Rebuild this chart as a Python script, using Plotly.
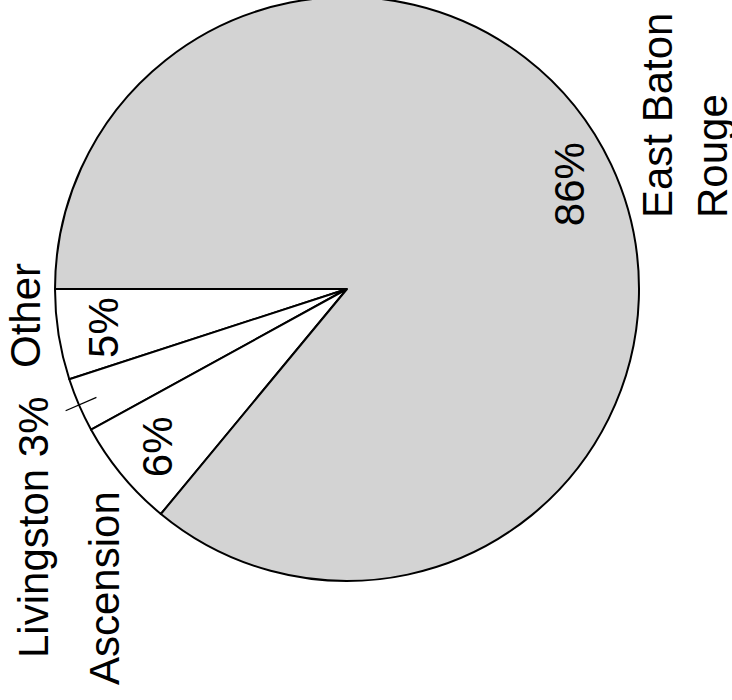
import math
import plotly.graph_objects as go

# ---- data ----
labels = ["Other", "Livingston", "Ascension", "East Baton Rouge"]
values = [5, 3, 6, 86]
slice_colors = ["#ffffff", "#ffffff", "#ffffff", "#d3d3d3"]

# ---- geometry (figure pixels) ----
W, H = 732, 703
CX, CY, R = 347, 292, 292
FONT = dict(family="Liberation Sans, Arial, sans-serif", size=42, color="black")

total = float(sum(values))


def to_paper(px, py):
    return px / W, 1 - py / H


def polar(r, theta_deg):
    # theta measured from 9 o'clock, going counter-clockwise on screen
    t = math.radians(theta_deg)
    return CX - r * math.cos(t), CY + r * math.sin(t)


# plotly puts the first slice clockwise of `rotation` when direction is ccw
rotation = 270 - 360 * values[0] / total

fig = go.Figure(
    go.Pie(
        labels=labels,
        values=values,
        sort=False,
        direction="counterclockwise",
        rotation=rotation,
        marker=dict(colors=slice_colors, line=dict(color="black", width=2)),
        textinfo="none",
        hoverinfo="label+percent",
        showlegend=False,
        domain=dict(x=[(CX - R) / W, (CX + R) / W], y=[1 - (CY + R) / H, 1 - (CY - R) / H]),
    )
)

annotations = []
shapes = []
cum = 0.0
mids = []
for lab, v in zip(labels, values):
    mid = 360 * (cum + v / 2) / total
    mids.append(mid)
    cum += v
    pct = f"{round(100 * v / total)}%"
    if v / total >= 0.04:
        x, y = polar(0.845 * R, mid)
        px, py = to_paper(x, y)
        annotations.append(dict(x=px, y=py, xref="paper", yref="paper", text=pct,
                                textangle=-90, showarrow=False, font=FONT,
                                xanchor="center", yanchor="middle"))

# outside labels (box centres in figure pixels)
outside = [
    ("Other", 26, 319, "center"),
    ("Livingston 3%", 33, 530, "center"),
    ("Ascension", 104, 591, "center"),
    ("East Baton<br>Rouge", 685, 119, "left"),
]
for text, x, y, al in outside:
    px, py = to_paper(x, y)
    annotations.append(dict(x=px, y=py, xref="paper", yref="paper", text=text,
                            textangle=-90, showarrow=False, font=FONT, align=al,
                            xanchor="center", yanchor="middle"))

# leader line for the Livingston slice
x0, y0 = polar(0.935 * R, mids[1])
x1, y1 = polar(1.05 * R, mids[1])
p0 = to_paper(x0, y0)
p1 = to_paper(x1, y1)
shapes.append(dict(type="line", xref="paper", yref="paper", x0=p0[0], y0=p0[1],
                   x1=p1[0], y1=p1[1], line=dict(color="black", width=1.3)))

fig.update_layout(
    width=W, height=H,
    margin=dict(l=0, r=0, t=0, b=0),
    paper_bgcolor="white", plot_bgcolor="white",
    annotations=annotations, shapes=shapes,
)

fig.write_html("out.html", config={"displayModeBar": False},
               post_script="document.body.style.margin='-3px 0 0 0'; document.body.style.overflow='hidden';")
